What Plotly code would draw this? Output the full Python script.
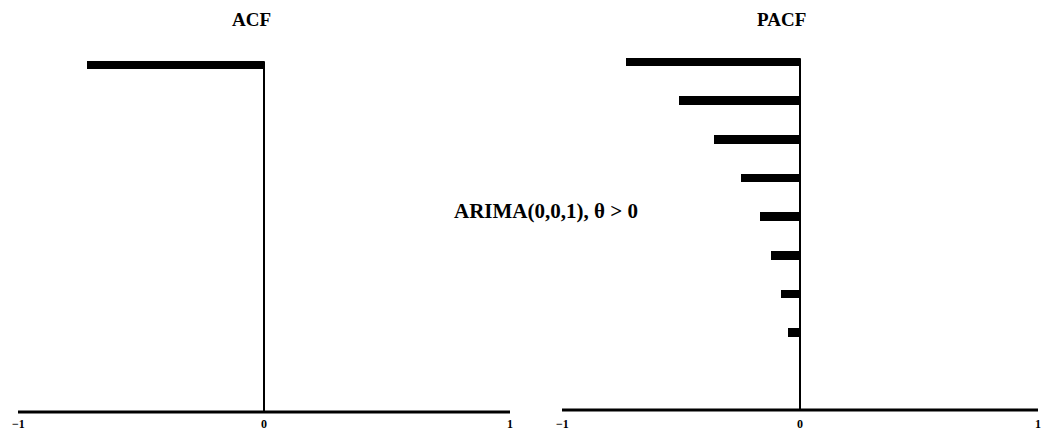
import plotly.graph_objects as go

# Theoretical correlations for an MA(1) process with theta > 0
acf_lags = [1]
acf_values = [-0.72]
pacf_lags = [1, 2, 3, 4, 5, 6, 7, 8]
pacf_values = [-0.73, -0.51, -0.36, -0.25, -0.17, -0.12, -0.08, -0.05]
axis_lag = 10
tick_values = [-1, 0, 1]
tick_labels = ["\u22121", "0", "1"]
panel_titles = ["ACF", "PACF"]
model_label = "ARIMA(0,0,1), \u03b8 > 0"

W, H = 1057, 436
fig = go.Figure()

panels = [
    dict(lags=acf_lags, vals=acf_values, xa="x", ya="y"),
    dict(lags=pacf_lags, vals=pacf_values, xa="x2", ya="y2"),
]
for p in panels:
    fig.add_trace(go.Bar(
        x=p["vals"], y=p["lags"], base=0, orientation="h", width=0.22,
        marker=dict(color="black", line=dict(width=0)),
        xaxis=p["xa"], yaxis=p["ya"], showlegend=False, hoverinfo="skip"))
    # horizontal correlation axis
    fig.add_trace(go.Scatter(
        x=[tick_values[0], tick_values[-1]], y=[axis_lag, axis_lag], mode="lines",
        line=dict(color="black", width=3), xaxis=p["xa"], yaxis=p["ya"],
        showlegend=False, hoverinfo="skip"))
    # vertical zero line from the first lag down to the axis
    fig.add_trace(go.Scatter(
        x=[0, 0], y=[p["lags"][0] - 0.1, axis_lag], mode="lines",
        line=dict(color="black", width=2), xaxis=p["xa"], yaxis=p["ya"],
        showlegend=False, hoverinfo="skip"))

hidden = dict(showgrid=False, zeroline=False, showticklabels=False,
              showline=False, ticks="", fixedrange=True)
fig.update_layout(
    width=W, height=H, margin=dict(l=0, r=0, t=0, b=0),
    paper_bgcolor="white", plot_bgcolor="white", bargap=0,
    xaxis=dict(domain=[18 / W, 510 / W], range=[-1, 1], **hidden),
    yaxis=dict(domain=[0, 1], range=[10.62, -0.686], anchor="x", **hidden),
    xaxis2=dict(domain=[562 / W, 1038 / W], range=[-1, 1], anchor="y2", **hidden),
    yaxis2=dict(domain=[0, 1], range=[10.67, -0.603], anchor="x2", **hidden),
)

serif = "Liberation Serif"
ann = []
for xa, title, tx in [("x", panel_titles[0], 251), ("x2", panel_titles[1], 781)]:
    ann.append(dict(text="<b>" + title + "</b>", x=tx / W, y=(H - 20) / H,
                    xref="paper", yref="paper", xanchor="center", yanchor="middle",
                    showarrow=False, font=dict(family=serif, size=19, color="black")))
    for v, lab in zip(tick_values, tick_labels):
        ann.append(dict(text="<b>" + lab + "</b>", x=v, y=(H - 424) / H,
                        xref=xa, yref="paper", xanchor="center", yanchor="middle",
                        showarrow=False, font=dict(family=serif, size=12, color="black")))
ann.append(dict(text="<b>" + model_label + "</b>", x=546 / W, y=(H - 211) / H,
                xref="paper", yref="paper", xanchor="center", yanchor="middle",
                showarrow=False, font=dict(family=serif, size=21, color="black")))
fig.update_layout(annotations=ann)

fig.write_html("out.html")
